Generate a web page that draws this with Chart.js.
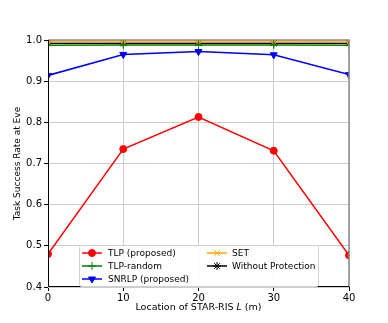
<!DOCTYPE html>
<html>
<head>
<meta charset="utf-8">
<script src="https://cdn.jsdelivr.net/npm/chart.js@4"></script>
<style>
  html, body { margin: 0; padding: 0; background: #fff; }
  #wrap { width: 388px; height: 323px; }
</style>
</head>
<body>
<div id="wrap"><canvas id="myChart" width="388" height="323"></canvas></div>
<script>
// locations of STAR-RIS (m)
const locations = [0, 10, 20, 30, 40];
const yTicks = [0.4, 0.5, 0.6, 0.7, 0.8, 0.9, 1.0];

const tlpProposed = [0.480, 0.735, 0.813, 0.731, 0.477];
const tlpRandom = [0.987, 0.988, 0.988, 0.988, 0.987];
const snrlpProposed = [0.914, 0.965, 0.972, 0.964, 0.916];
const setValues = [0.995, 0.995, 0.995, 0.995, 0.995];
const withoutProtection = [0.992, 0.992, 0.992, 0.992, 0.992];

const FONT = "'DejaVu Sans', sans-serif";

const toPoints = (vals) => locations.map((x, i) => ({ x: x, y: vals[i] }));

// matplotlib-like legend + axes frame + x title with italic L
const mplDecor = {
  id: "mplDecor",
  afterDraw(chart) {
    const ctx = chart.ctx;
    const a = chart.chartArea;
    ctx.save();

    // frame: top/right gray, left/bottom black
    ctx.lineWidth = 1.5;
    ctx.strokeStyle = "#8a8a8a";
    ctx.beginPath();
    ctx.moveTo(a.left, a.top);
    ctx.lineTo(a.right, a.top);
    ctx.lineTo(a.right, a.bottom);
    ctx.stroke();
    ctx.lineWidth = 1;
    ctx.strokeStyle = "#000";
    ctx.beginPath();
    ctx.moveTo(a.left + 0.5, a.top);
    ctx.lineTo(a.left + 0.5, a.bottom - 0.5);
    ctx.lineTo(a.right, a.bottom - 0.5);
    ctx.stroke();

    // legend box
    const bx = 79, by = 245, bw = 239, bh = 41;
    ctx.fillStyle = "rgba(255,255,255,0.85)";
    ctx.strokeStyle = "#d0d0d0";
    ctx.lineWidth = 1;
    ctx.beginPath();
    ctx.roundRect(bx + 0.5, by + 0.5, bw, bh, 2);
    ctx.fill();
    ctx.stroke();

    const cols = [{ lx: 82, tx: 108 }, { lx: 207, tx: 232 }];
    const rows = [253, 266, 279];
    const order = [[0, 0, 0], [1, 0, 1], [2, 0, 2], [3, 1, 0], [4, 1, 1]];
    ctx.textBaseline = "middle";
    order.forEach(([di, c, r]) => {
      const ds = chart.data.datasets[di];
      const y = rows[r];
      const x0 = cols[c].lx;
      ctx.strokeStyle = ds.borderColor;
      ctx.fillStyle = ds.backgroundColor;
      ctx.lineWidth = ds.borderWidth;
      ctx.beginPath();
      ctx.moveTo(x0, y);
      ctx.lineTo(x0 + 20, y);
      ctx.stroke();
      ctx.lineWidth = ds.pointBorderWidth || 1;
      Chart.helpers.drawPoint(ctx, {
        pointStyle: ds.pointStyle,
        radius: ds.pointRadius,
        rotation: ds.pointRotation || 0,
        borderWidth: ds.pointBorderWidth || 1
      }, x0 + 10, y);
      ctx.fillStyle = "#000";
      ctx.textAlign = "left";
      ctx.font = "9px " + FONT;
      ctx.fillText(ds.label, cols[c].tx, y + 1);
    });

    // x-axis title
    const cx = (a.left + a.right) / 2;
    const ty = 308;
    const p1 = "Location of STAR-RIS ", p2 = "L", p3 = " (m)";
    ctx.fillStyle = "#000";
    ctx.font = "9.5px " + FONT;
    const w1 = ctx.measureText(p1).width, w3 = ctx.measureText(p3).width;
    ctx.font = "italic 9.5px " + FONT;
    const w2 = ctx.measureText(p2).width;
    const x = cx - (w1 + w2 + w3) / 2;
    ctx.textAlign = "left";
    ctx.font = "9.5px " + FONT;
    ctx.fillText(p1, x, ty);
    ctx.font = "italic 9.5px " + FONT;
    ctx.fillText(p2, x + w1, ty);
    ctx.font = "9.5px " + FONT;
    ctx.fillText(p3, x + w1 + w2, ty);
    ctx.restore();
  }
};

const ctx1 = document.getElementById("myChart").getContext("2d");
new Chart(ctx1, {
  type: "line",
  data: {
    datasets: [
      { label: "TLP (proposed)", data: toPoints(tlpProposed), borderColor: "#ff0000", backgroundColor: "#ff0000",
        borderWidth: 1.5, pointStyle: "circle", pointRadius: 3.5, pointBorderWidth: 1 },
      { label: "TLP-random", data: toPoints(tlpRandom), borderColor: "#008000", backgroundColor: "#008000",
        borderWidth: 1.5, pointStyle: "cross", pointRadius: 4, pointBorderWidth: 1 },
      { label: "SNRLP (proposed)", data: toPoints(snrlpProposed), borderColor: "#0000ff", backgroundColor: "#0000ff",
        borderWidth: 1.5, pointStyle: "triangle", pointRotation: 180, pointRadius: 4, pointBorderWidth: 1 },
      { label: "SET", data: toPoints(setValues), borderColor: "#ffa500", backgroundColor: "#ffa500",
        borderWidth: 1.5, pointStyle: "crossRot", pointRadius: 4, pointBorderWidth: 1 },
      { label: "Without Protection", data: toPoints(withoutProtection), borderColor: "#000000", backgroundColor: "#000000",
        borderWidth: 1.5, pointStyle: "star", pointRadius: 4, pointBorderWidth: 1 }
    ]
  },
  options: {
    responsive: false,
    animation: false,
    devicePixelRatio: 1,
    layout: { padding: { top: 40, right: 39, left: 0, bottom: 0 } },
    plugins: { legend: { display: false }, tooltip: { enabled: false } },
    scales: {
      x: {
        type: "linear", min: 0, max: 40,
        afterBuildTicks: (s) => { s.ticks = locations.map((v) => ({ value: v })); },
        afterFit: (s) => { s.height = 36; },
        grid: { color: "#cccccc", tickColor: "#000", tickLength: 4, drawTicks: true },
        ticks: { color: "#000", font: { family: FONT, size: 10 }, padding: 1, maxRotation: 0 },
        border: { display: false }
      },
      y: {
        min: 0.4, max: 1.0,
        afterBuildTicks: (s) => { s.ticks = yTicks.map((v) => ({ value: v })); },
        afterFit: (s) => { s.width = 48; },
        grid: { color: "#cccccc", tickColor: "#000", tickLength: 4, drawTicks: true },
        ticks: { color: "#000", font: { family: FONT, size: 10 }, padding: 2,
          callback: (v) => Number(v).toFixed(1) },
        border: { display: false },
        title: { display: true, text: "Task Success Rate at Eve", color: "#000",
          font: { family: FONT, size: 9 }, padding: { top: 12, bottom: 0 } }
      }
    }
  },
  plugins: [mplDecor]
});
</script>
</body>
</html>
